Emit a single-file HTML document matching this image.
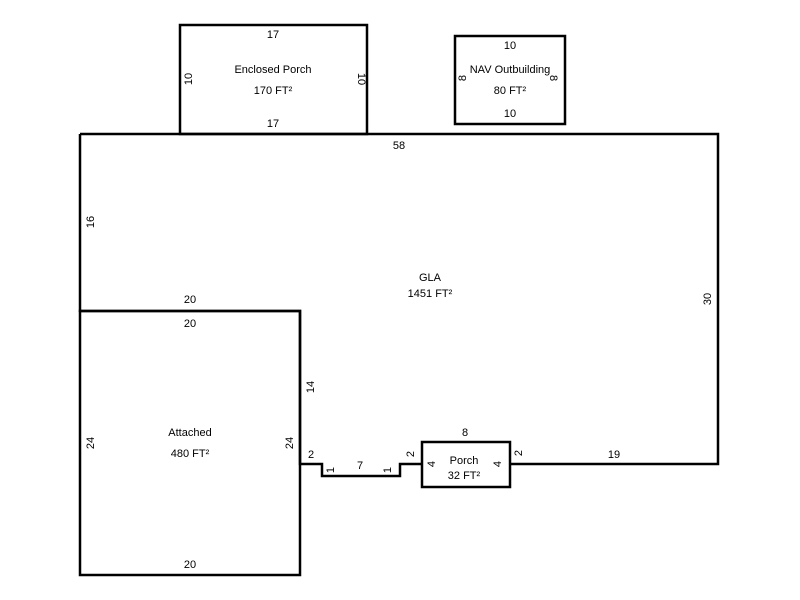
<!DOCTYPE html>
<html><head><meta charset="utf-8"><style>
html,body{margin:0;padding:0;background:#fff;}
svg{display:block;}
text{font-family:"Liberation Sans",Arial,sans-serif;font-size:11px;fill:#000;}
</style></head><body>
<svg width="800" height="600" viewBox="0 0 800 600" xmlns="http://www.w3.org/2000/svg">
<g fill="none" stroke="#000" stroke-width="2.5">
<rect x="180" y="25" width="187" height="109"/>
<rect x="455" y="36" width="110" height="88"/>
<path d="M80 134 H718 V464 H510"/>
<path d="M422 464 H400 V476 H322 V464 H300 V311 H80 V134"/>
<rect x="80" y="311" width="220" height="264"/>
<rect x="422" y="442" width="88" height="45"/>
</g>
<g text-anchor="middle">
<text x="273" y="38">17</text>
<text x="273" y="73">Enclosed Porch</text>
<text x="273" y="94">170 FT²</text>
<text x="273" y="127">17</text>
<text transform="translate(192,79) rotate(-90)">10</text>
<text transform="translate(358,79) rotate(90)">10</text>
<text x="510" y="49">10</text>
<text x="510" y="73">NAV Outbuilding</text>
<text x="510" y="94">80 FT²</text>
<text x="510" y="117">10</text>
<text transform="translate(466,78) rotate(-90)">8</text>
<text transform="translate(550,78) rotate(90)">8</text>
<text x="399" y="149">58</text>
<text transform="translate(94,222) rotate(-90)">16</text>
<text transform="translate(711,299) rotate(-90)">30</text>
<text x="430" y="281">GLA</text>
<text x="430" y="297">1451 FT²</text>
<text x="190" y="303">20</text>
<text x="190" y="327">20</text>
<text x="190" y="436">Attached</text>
<text x="190" y="457">480 FT²</text>
<text x="190" y="568">20</text>
<text transform="translate(94,443) rotate(-90)">24</text>
<text transform="translate(293,443) rotate(-90)">24</text>
<text transform="translate(314,387) rotate(-90)">14</text>
<text x="311" y="458">2</text>
<text x="360" y="469">7</text>
<text transform="translate(334,470) rotate(-90)">1</text>
<text transform="translate(391,470) rotate(-90)">1</text>
<text transform="translate(414,454) rotate(-90)">2</text>
<text x="465" y="436">8</text>
<text x="464" y="464">Porch</text>
<text x="464" y="479">32 FT²</text>
<text transform="translate(435,464) rotate(-90)">4</text>
<text transform="translate(501,464) rotate(-90)">4</text>
<text transform="translate(522,453) rotate(-90)">2</text>
<text x="614" y="458">19</text>
</g>
</svg>
</body></html>
